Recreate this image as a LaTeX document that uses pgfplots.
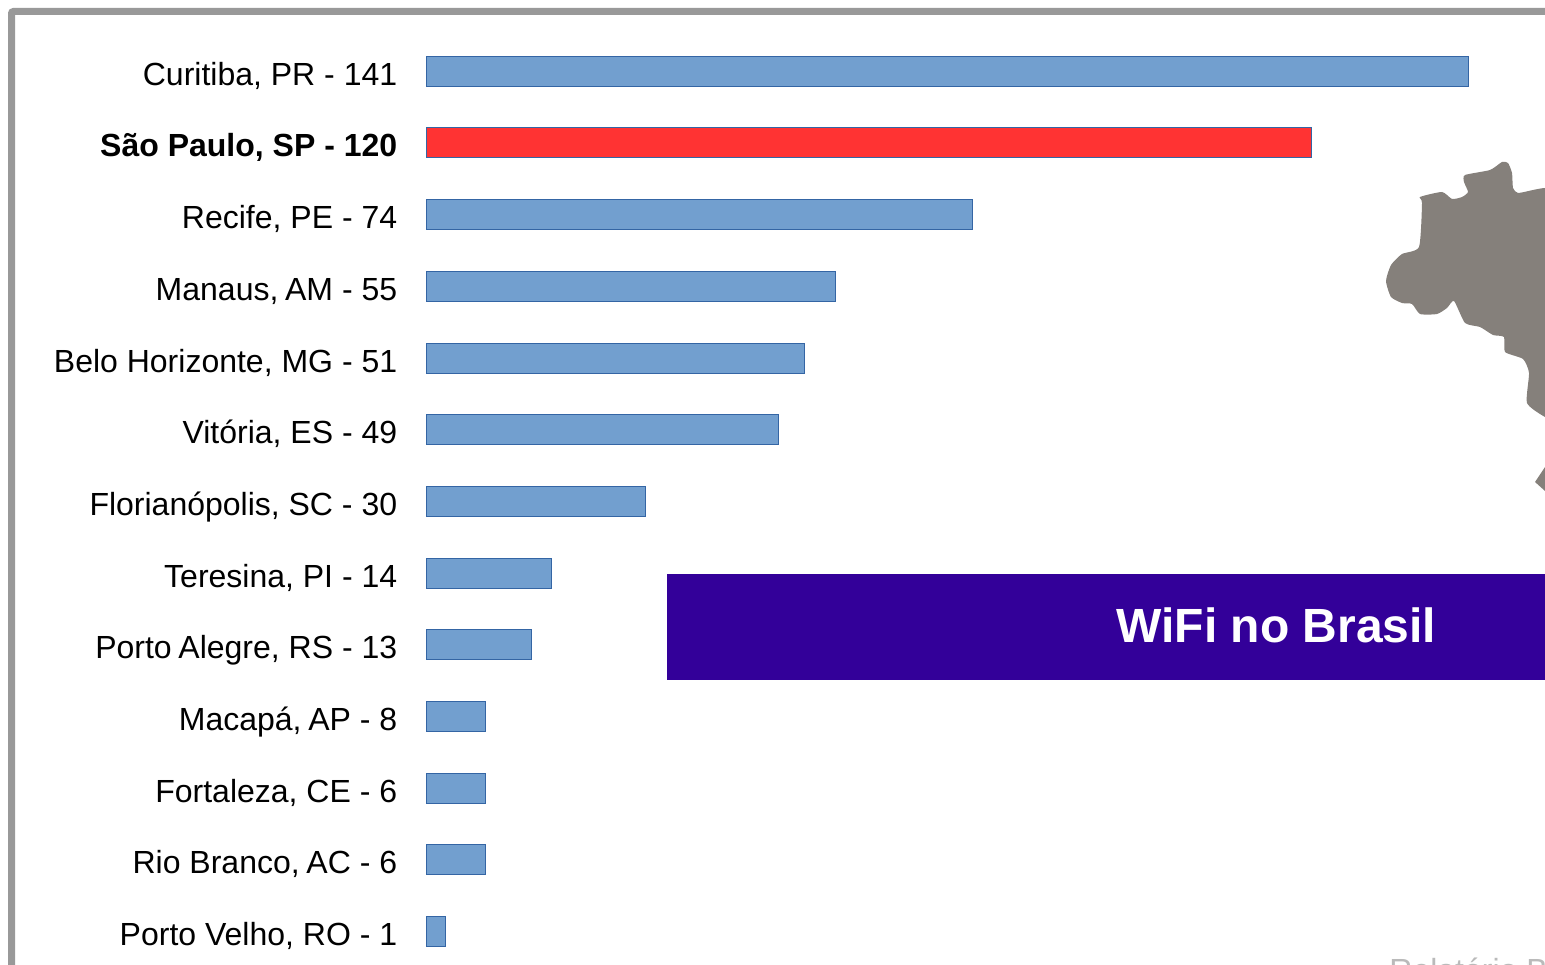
\documentclass[border=0pt]{standalone}
\usepackage{fontspec}
\setmainfont{Liberation Sans}
\usepackage{pgfplots}
\usepackage{pgfplotstable}
\pgfplotsset{compat=1.18}
\definecolor{barblue}{HTML}{729FCF}
\definecolor{barline}{HTML}{3465A4}
\definecolor{barred}{HTML}{FF3333}
\definecolor{framegray}{HTML}{999999}
\definecolor{mapgray}{HTML}{85807B}
\definecolor{boxpurple}{HTML}{330099}
\newcommand{\kA}{\kern-1.1pt }
\pgfplotstableread{
y v
0 140.9
2 73.8
3 55.3
4 51.2
5 47.6
6 29.6
7 17.0
8 14.3
9 8.1
10 8.1
11 8.1
12 2.7
}\bluebars
\pgfplotstableread{
y v
1 119.7
}\redbars
\begin{document}
\begin{tikzpicture}
\path[use as bounding box,clip] (0,0) rectangle (772.5pt,482pt);
\begin{scope}[x=0.5pt,y=-0.5pt,yshift=482pt]
  \draw[framegray,line width=3.5pt,rounded corners=1pt] (11.5,1100) -- (11.5,11.5) -- (1700,11.5);
  \fill[mapgray] plot[smooth cycle,tension=0.35] coordinates {(1575,188) (1545,188) (1533,190) (1518,193) (1513,188) (1512,173) (1508,163) (1502,162) (1490,170) (1465,175) (1464,182) (1468,192) (1462,197) (1452,199) (1442,192) (1420,197) (1422,203) (1419,247) (1402,254) (1391,265) (1386,281) (1391,297) (1402,303) (1412,304) (1420,314) (1437,314) (1447,308) (1454,301) (1465,323) (1480,327) (1493,335) (1504,337) (1505,352) (1523,359) (1529,373) (1527,403) (1545,417) (1575,430)};
  \fill[mapgray] (1550,460) -- (1545,467) -- (1535,482) -- (1545,491) -- (1550,495) -- cycle;
  \node[anchor=base west,inner sep=0pt,text=black!27,font=\fontsize{16pt}{19pt}\selectfont] at (1389,981) {Relatório B};
\end{scope}
\begin{axis}[
  at={(213pt,0pt)},anchor=south west,
  scale only axis,width=559.5pt,height=482pt,
  xmin=0,xmax=151.2,ymin=-0.995,ymax=12.455,y dir=reverse,
  axis line style={draw=none},
  xtick=\empty,
  ytick={0,1,2,3,4,5,6,7,8,9,10,11,12},
  yticklabels={{Curitiba, PR - 141},{\bfseries São Paulo, SP - 120},{Recife, PE - 74},{Manaus, \kA AM - 55},{Belo Horizonte, MG - 51},{Vitória, ES - 49},{Florianópolis, SC - 30},{Teresina, PI - 14},{Porto \kA Alegre, RS - 13},{Macapá, \kA AP - 8},{Fortaleza, CE - 6},{Rio Branco, \kA AC - 6},{Porto Velho, RO - 1}},
  major tick length=0pt,
  yticklabel style={anchor=base east,inner sep=0pt,xshift=-14.2pt,yshift=-7pt,font=\fontsize{16pt}{19pt}\selectfont,text=black},
  xbar,bar width=15pt,
  clip=false,
]
\addplot[bar shift=0pt,fill=barblue,draw=barline,line width=0.5pt] table[x=v,y=y] {\bluebars};
\addplot[bar shift=0pt,fill=barred,draw=barline,line width=0.5pt] table[x=v,y=y] {\redbars};
\end{axis}
\begin{scope}[x=0.5pt,y=-0.5pt,yshift=482pt]
  \fill[boxpurple] (667,574) rectangle (1560,680);
  \node[anchor=base,inner sep=0pt,text=white,font=\fontsize{24pt}{28pt}\selectfont\bfseries] at (1276.5,642.5) {WiFi no Brasil};
\end{scope}
\end{tikzpicture}
\end{document}
